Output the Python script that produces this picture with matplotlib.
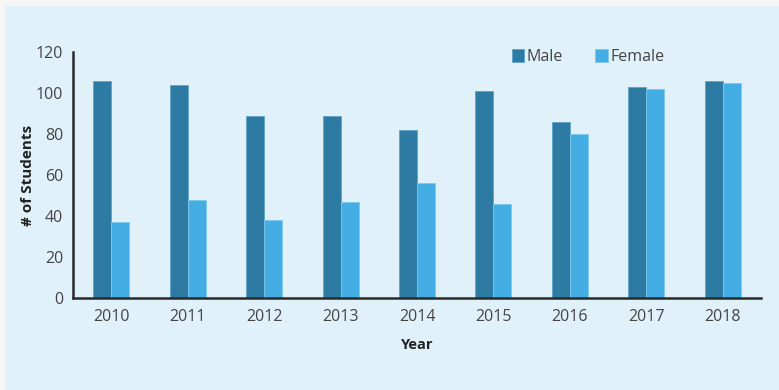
import matplotlib
matplotlib.use("Agg")
import matplotlib.pyplot as plt
import numpy as np
from matplotlib.patches import Patch

years = ["2010", "2011", "2012", "2013", "2014", "2015", "2016", "2017", "2018"]
male = [106, 104, 89, 89, 82, 101, 86, 103, 106]
female = [37, 48, 38, 47, 56, 46, 80, 102, 105]
yticks = [0, 20, 40, 60, 80, 100, 120]

plt.rcParams['font.family'] = ['Open Sans', 'DejaVu Sans']

male_c = "#2d7aa3"
female_c = "#43ade4"
panel_c = "#e1f1fa"

fig = plt.figure(figsize=(7.79, 3.90), dpi=100)
fig.patch.set_facecolor("#f6f6f6")

bg = fig.add_axes([5/779, 0, 1 - 5/779, 1 - 6/390], zorder=-5)
bg.set_facecolor(panel_c)
bg.set_xticks([])
bg.set_yticks([])
for s in bg.spines.values():
    s.set_visible(False)

ax = fig.add_axes([73/779, 1 - 298/390, (761 - 73)/779, (298 - 52)/390], zorder=1)
ax.set_facecolor("none")

x = np.arange(len(years))
w = 0.235
ax.bar(x - w/2, male, w, color=male_c, edgecolor="#5ea3c9", linewidth=0.6, zorder=2)
ax.bar(x + w/2, female, w, color=female_c, edgecolor="#7fc8ee", linewidth=0.6, zorder=2)

ax.set_xlim(-0.5, len(years) - 0.5)
ax.set_ylim(0, 120)
ax.set_yticks(yticks)
ax.set_xticks(x)
ax.set_xticklabels(years)

for s in ["top", "right"]:
    ax.spines[s].set_visible(False)
for s in ["left", "bottom"]:
    ax.spines[s].set_color("#2a2a2a")
    ax.spines[s].set_linewidth(1.8)

ax.tick_params(axis="both", length=0, labelsize=11.5, colors="#444444")
ax.tick_params(axis="y", pad=7)
ax.tick_params(axis="x", pad=8)

ax.set_xlabel("Year", fontsize=10.5, fontweight="bold", color="#222222", labelpad=9)
ax.set_ylabel("# of Students", fontsize=11, fontweight="bold", color="#222222", labelpad=1)

handles = [Patch(facecolor=male_c, edgecolor="#5ea3c9", linewidth=0.6, label="Male"),
           Patch(facecolor=female_c, edgecolor="#7fc8ee", linewidth=0.6, label="Female")]
fig.legend(handles=handles, loc="center", bbox_to_anchor=(588/779, 1 - 57/390), ncol=2,
           frameon=False, fontsize=11.5, handlelength=0.8, handleheight=0.8,
           handletextpad=0.15, columnspacing=2.0, labelcolor="#444444")

fig.savefig("out.png", dpi=100, facecolor=fig.get_facecolor())
